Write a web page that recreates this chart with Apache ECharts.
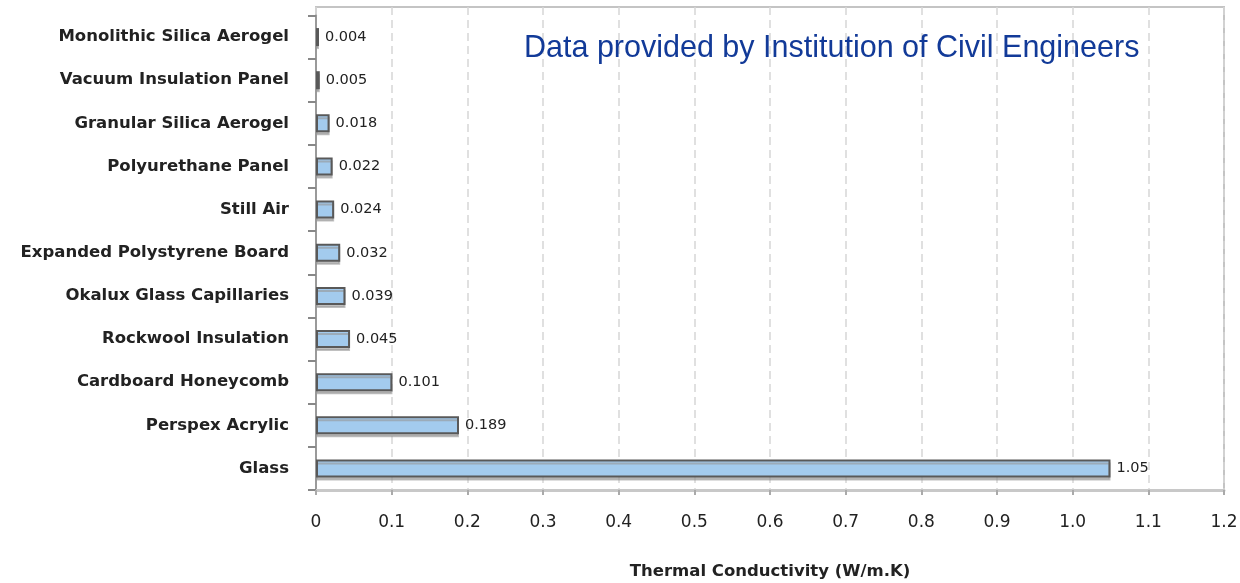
<!DOCTYPE html>
<html>
<head>
<meta charset="utf-8">
<script src="https://cdn.jsdelivr.net/npm/echarts@6/dist/echarts.min.js"></script>
<style>
html, body { margin: 0; padding: 0; background: #fff; }
#chart { width: 1240px; height: 583px; }
</style>
</head>
<body>
<div id="chart"></div>
<script>
// categories top to bottom as in the picture
const materials = [
    'Monolithic Silica Aerogel',
    'Vacuum Insulation Panel',
    'Granular Silica Aerogel',
    'Polyurethane Panel',
    'Still Air',
    'Expanded Polystyrene Board',
    'Okalux Glass Capillaries',
    'Rockwool Insulation',
    'Cardboard Honeycomb',
    'Perspex Acrylic',
    'Glass'
]
const conductivity = [0.004, 0.005, 0.018, 0.022, 0.024, 0.032, 0.039, 0.045, 0.101, 0.189, 1.05]
const valueLabels = ['0.004', '0.005', '0.018', '0.022', '0.024', '0.032', '0.039', '0.045', '0.101', '0.189', '1.05']
const xTicks = ['0', '0.1', '0.2', '0.3', '0.4', '0.5', '0.6', '0.7', '0.8', '0.9', '1.0', '1.1', '1.2']

let chart = echarts.init(document.getElementById('chart'))

const font = 'DejaVu Sans, sans-serif'

let option = {
    animation: false,
    textStyle: { fontFamily: font },
    title: {
        text: 'Data provided by Institution of Civil Engineers',
        left: 519,
        top: 28,
        textStyle: {
            color: '#123a98',
            fontSize: 30.5,
            fontWeight: 'normal',
            fontFamily: 'Liberation Sans, Arial, sans-serif'
        }
    },
    grid: [{
        left: 316,
        right: 16,
        top: 15.5,
        bottom: 93,
        outerBoundsMode: 'none',
        containLabel: false
    }, {
        // outer frame, starts a bit higher than the category band
        left: 316,
        right: 16,
        top: 7,
        bottom: 93,
        outerBoundsMode: 'none',
        show: true,
        borderColor: '#c4c4c4',
        borderWidth: 2
    }],
    xAxis: [{
        type: 'value',
        min: 0,
        max: 1.2,
        interval: 0.1,
        name: 'Thermal Conductivity (W/m.K)',
        nameLocation: 'middle',
        nameGap: 73,
        nameTextStyle: { fontSize: 16.5, fontWeight: 'bold', color: '#222' },
        axisLine: { show: true, lineStyle: { color: '#c8c8c8', width: 3 } },
        axisTick: { show: true, length: 5, lineStyle: { color: '#aaa', width: 2 } },
        axisLabel: {
            fontSize: 17,
            color: '#222',
            margin: 24,
            formatter: (v) => xTicks[Math.round(v * 10)]
        },
        splitLine: { show: false }
    }, {
        gridIndex: 1,
        type: 'value',
        min: 0,
        max: 1.2,
        interval: 0.1,
        axisLine: { show: false },
        axisTick: { show: false },
        axisLabel: { show: false },
        splitLine: {
            show: true,
            lineStyle: { color: '#d6d6d6', type: [8, 5], width: 1.5 }
        }
    }],
    yAxis: [{
        type: 'category',
        data: materials,
        inverse: true,
        axisLine: { show: true, lineStyle: { color: '#9a9a9a', width: 2 } },
        axisTick: { show: true, length: 8, lineStyle: { color: '#888', width: 2 } },
        axisLabel: { fontSize: 16.5, fontWeight: 'bold', color: '#222', margin: 27 },
        splitLine: { show: false }
    }, {
        gridIndex: 1,
        type: 'value',
        show: false
    }],
    series: [{
        type: 'bar',
        data: conductivity,
        barWidth: 18,
        z: 3,
        itemStyle: {
            color: '#a3cbee',
            borderColor: '#595959',
            borderWidth: 2,
            shadowColor: 'rgba(150,150,150,0.6)',
            shadowOffsetY: 3
        },
        label: {
            show: true,
            position: 'right',
            distance: 6,
            fontSize: 14.5,
            color: '#222',
            formatter: (p) => valueLabels[p.dataIndex]
        }
    }]
}
chart.setOption(option)
</script>
</body>
</html>
